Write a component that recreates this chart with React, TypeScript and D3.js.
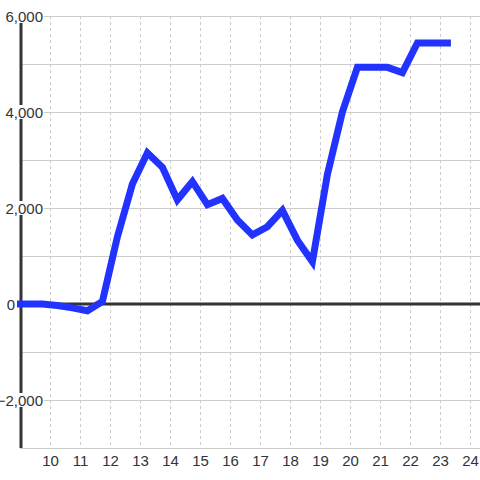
import React from "react";
import * as d3 from "d3";

const xValues = [9.0, 9.73, 10.23, 10.73, 11.23, 11.73, 12.23, 12.73, 13.23, 13.73, 14.23, 14.73, 15.23, 15.73, 16.23, 16.73, 17.23, 17.73, 18.23, 18.73, 19.23, 19.73, 20.23, 20.73, 21.23, 21.73, 22.23, 22.73, 23.23];
const seriesValues = [0, 0, -30, -80, -140, 50, 1400, 2500, 3150, 2850, 2170, 2550, 2070, 2200, 1750, 1440, 1610, 1950, 1330, 880, 2700, 4000, 4930, 4930, 4930, 4820, 5440, 5440, 5440];
const xTicks = [10, 11, 12, 13, 14, 15, 16, 17, 18, 19, 20, 21, 22, 23, 24];
const yGrid = [-3000, -2000, -1000, 0, 1000, 2000, 3000, 4000, 5000, 6000];
const yLabels = [-2000, 0, 4000, 6000, 2000];

export default function App() {
  const W = 480, H = 480;
  const left = 20, top = 16, bottom = 448;
  const x = d3.scaleLinear().domain([9, 24.3]).range([20.5, 479.5]);
  const y = d3.scaleLinear().domain([-3000, 6000]).range([bottom, top]);
  const fmt = d3.format(",");
  const data = xValues.map((v, i) => [v, seriesValues[i]] as [number, number]);
  const line = d3.line<[number, number]>().x(d => x(d[0])).y(d => y(d[1]));
  const font = "'Liberation Sans', Arial, sans-serif";

  return (
    <svg width={W} height={H} style={{ position: "fixed", left: 0, top: 0, background: "#fff" }}>
      <rect x={0} y={0} width={W} height={H} fill="#fff" />
      {yGrid.map(v => (
        <line key={"h" + v} x1={left} x2={W} y1={Math.round(y(v)) + 0.5} y2={Math.round(y(v)) + 0.5} stroke="#cccccc" strokeWidth={1} />
      ))}
      {xTicks.map(t => (
        <line key={"v" + t} x1={x(t)} x2={x(t)} y1={top} y2={bottom} stroke="#cccccc" strokeWidth={1} strokeDasharray="3,3" />
      ))}
      <line x1={left} x2={W} y1={y(0)} y2={y(0)} stroke="#333" strokeWidth={3} />
      <line x1={left + 1} x2={left + 1} y1={top} y2={bottom} stroke="#333" strokeWidth={3} />
      {yLabels.map(v => {
        const yy = y(v);
        if (v === 0) {
          return (
            <text key={"yl" + v} x={15} y={yy + 5.5} textAnchor="end" fontSize={15} fontFamily={font} fill="#333">{fmt(v)}</text>
          );
        }
        return (
          <g key={"yl" + v}>
            <rect x={2} y={yy - 7} width={42} height={14} fill="#fff" />
            <text x={43} y={yy + 6} textAnchor="end" fontSize={15} fontFamily={font} fill="#333">{fmt(v)}</text>
          </g>
        );
      })}
      {xTicks.map(t => (
        <text key={"xl" + t} x={x(t)} y={466} textAnchor="middle" fontSize={15} fontFamily={font} fill="#333">{t}</text>
      ))}
      <path d={line(data) || ""} fill="none" stroke="#2233ff" strokeWidth={7} strokeLinecap="square" strokeLinejoin="miter" />
    </svg>
  );
}
